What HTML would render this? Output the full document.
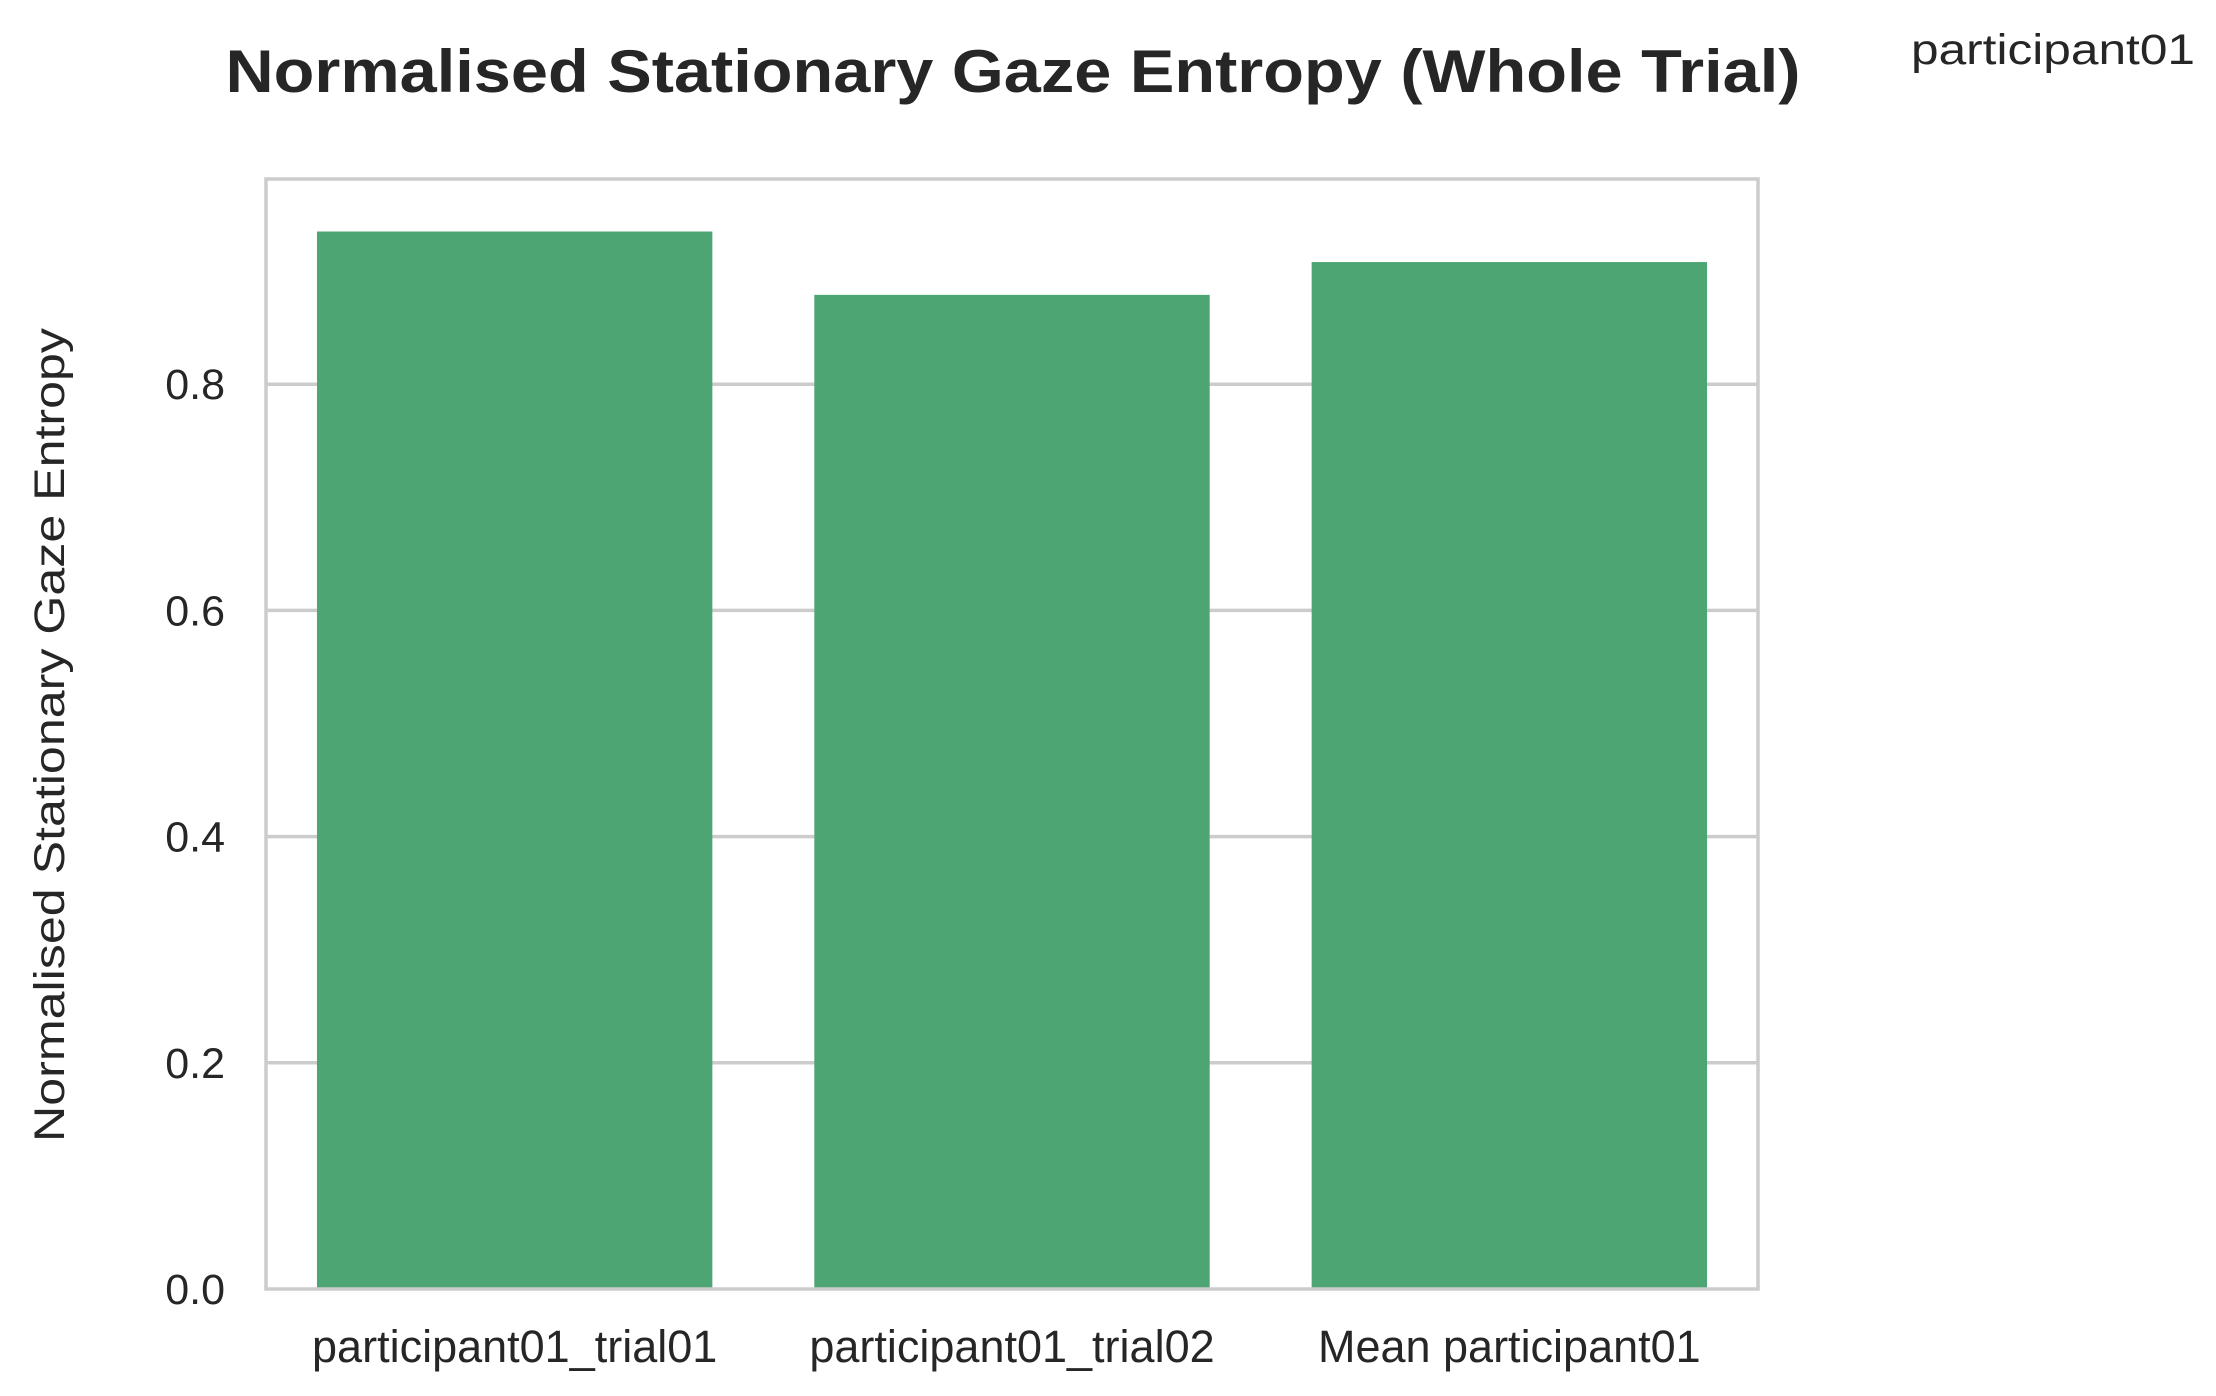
<!DOCTYPE html>
<html><head><meta charset="utf-8"><style>html,body{margin:0;padding:0;background:#fff}svg{display:block}</style></head>
<body>
<svg id="chart" width="2216" height="1396" viewBox="0 0 2216 1396" xmlns="http://www.w3.org/2000/svg" font-family="'Liberation Sans', Arial, sans-serif">
<rect width="2216" height="1396" fill="#fff"/>
<text x="1013" y="92" text-anchor="middle" font-size="60" font-weight="bold" fill="#262626" textLength="1575" lengthAdjust="spacingAndGlyphs">Normalised Stationary Gaze Entropy (Whole Trial)</text>
<text x="1911" y="64" font-size="43" fill="#262626" textLength="284" lengthAdjust="spacingAndGlyphs">participant01</text>
<text transform="translate(64,735) rotate(-90)" text-anchor="middle" font-size="43" fill="#262626" textLength="814" lengthAdjust="spacingAndGlyphs">Normalised Stationary Gaze Entropy</text>
<g id="grid"></g>
<g id="bars"></g>
<g id="ticks"></g>
<rect x="266" y="179" width="1492" height="1110" fill="none" stroke="#cccccc" stroke-width="3.5"/>
</svg>
<script>
const categories = ["participant01_trial01", "participant01_trial02", "Mean participant01"];
const values = [0.935, 0.879, 0.908];
const yTicks = [0.0, 0.2, 0.4, 0.6, 0.8];
const yTickLabels = ["0.0", "0.2", "0.4", "0.6", "0.8"];

const NS = "http://www.w3.org/2000/svg";
const X0 = 266, X1 = 1758, Y0 = 1289, PX_PER_UNIT = 1131;
const y = v => Y0 - v * PX_PER_UNIT;
const band = (X1 - X0) / categories.length;
const xCenter = i => X0 + band * (i + 0.5);
const barW = band * 0.795;

const grid = document.getElementById('grid');
const ticks = document.getElementById('ticks');
yTicks.forEach((t, i) => {
  if (t > 0) {
    const l = document.createElementNS(NS, 'line');
    
    
    l.setAttribute('x1', X0); l.setAttribute('x2', X1);
    l.setAttribute('y1', y(t)); l.setAttribute('y2', y(t));
    l.setAttribute('stroke', '#cccccc'); l.setAttribute('stroke-width', '3.5');
    grid.appendChild(l);
  }
  const tx = document.createElementNS(NS, 'text');
  
  
  tx.setAttribute('x', 225); tx.setAttribute('y', y(t) + 15);
  tx.setAttribute('text-anchor', 'end'); tx.setAttribute('font-size', '43');
  tx.setAttribute('fill', '#262626');
  tx.textContent = yTickLabels[i];
  ticks.appendChild(tx);
});
const bars = document.getElementById('bars');
categories.forEach((c, i) => {
  const r = document.createElementNS(NS, 'rect');
  
  
  r.setAttribute('x', xCenter(i) - barW / 2); r.setAttribute('width', barW);
  r.setAttribute('y', y(values[i])); r.setAttribute('height', Y0 - y(values[i]));
  r.setAttribute('fill', '#4ea574');
  bars.appendChild(r);
  const tx = document.createElementNS(NS, 'text');
  
  
  tx.setAttribute('x', xCenter(i)); tx.setAttribute('y', 1362);
  tx.setAttribute('text-anchor', 'middle'); tx.setAttribute('font-size', '45');
  tx.setAttribute('fill', '#262626');
  tx.textContent = c;
  ticks.appendChild(tx);
});
</script>
</body></html>
